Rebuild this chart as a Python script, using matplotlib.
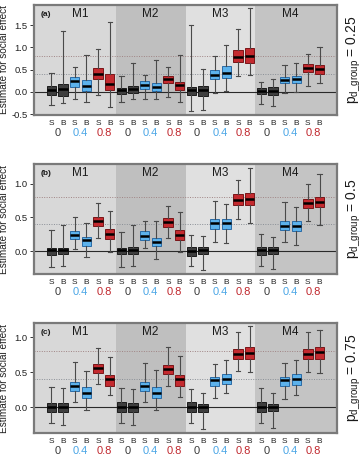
import matplotlib
matplotlib.use("Agg")
from matplotlib import pyplot as plt, transforms as mtransforms, ticker as mticker

plt.rcParams["font.family"] = ["Liberation Sans", "DejaVu Sans"]
plt.rcParams["mathtext.fontset"] = "custom"
plt.rcParams["mathtext.rm"] = "Liberation Sans"
plt.rcParams["mathtext.it"] = "Liberation Sans:italic"

MODELS = ["M1", "M2", "M3", "M4"]
ESTIMATORS = ["S", "B"] * 12
P_SOCIAL = ["0", "0.4", "0.8"] * 4
P_GROUP = ["0.25", "0.5", "0.75"]
PANEL_TAGS = ["(a)", "(b)", "(c)"]

# Panel (a), p_d_group = 0.25
a_low = [-0.30, -0.26, -0.15, -0.23, -0.08, -0.35, -0.23, -0.17, -0.17, -0.15, -0.11, -0.23,
         -0.42, -0.41, -0.02, 0.02, 0.35, 0.38, -0.27, -0.31, -0.02, -0.01, 0.14, 0.19]
a_q1 = [-0.07, -0.10, 0.10, 0.01, 0.29, 0.05, -0.05, -0.02, 0.07, 0.01, 0.19, 0.05,
        -0.06, -0.10, 0.28, 0.31, 0.67, 0.66, -0.05, -0.08, 0.19, 0.19, 0.44, 0.40]
a_med = [0.04, 0.07, 0.25, 0.13, 0.40, 0.17, 0.04, 0.06, 0.16, 0.10, 0.29, 0.15,
         0.04, 0.04, 0.37, 0.43, 0.79, 0.80, 0.01, 0.01, 0.26, 0.28, 0.53, 0.51]
a_q3 = [0.13, 0.17, 0.34, 0.27, 0.54, 0.40, 0.09, 0.13, 0.24, 0.19, 0.36, 0.23,
        0.10, 0.13, 0.49, 0.58, 0.94, 0.98, 0.08, 0.10, 0.34, 0.35, 0.62, 0.61]
a_high = [0.42, 1.38, 0.55, 0.82, 0.96, 1.58, 0.35, 0.65, 0.37, 0.71, 0.55, 0.84,
          1.50, 0.52, 0.81, 1.05, 1.41, 1.88, 0.22, 0.29, 0.60, 0.64, 0.85, 1.01]

# Panel (b), p_d_group = 0.5
b_low = [-0.24, -0.22, 0.03, -0.09, 0.20, -0.02, -0.24, -0.22, 0.04, -0.12, 0.19, -0.01,
         -0.22, -0.28, 0.14, 0.12, 0.47, 0.41, -0.22, -0.26, 0.14, 0.09, 0.44, 0.38]
b_q1 = [-0.06, -0.05, 0.18, 0.07, 0.37, 0.18, -0.05, -0.04, 0.17, 0.07, 0.35, 0.17,
        -0.07, -0.05, 0.33, 0.33, 0.68, 0.69, -0.06, -0.05, 0.31, 0.30, 0.64, 0.66]
b_med = [0.01, 0.02, 0.24, 0.16, 0.45, 0.26, 0.01, 0.02, 0.23, 0.14, 0.43, 0.24,
         0.00, 0.01, 0.41, 0.41, 0.76, 0.78, 0.01, 0.01, 0.37, 0.37, 0.72, 0.73]
b_q3 = [0.05, 0.05, 0.30, 0.21, 0.51, 0.32, 0.05, 0.06, 0.29, 0.19, 0.49, 0.31,
        0.06, 0.06, 0.47, 0.47, 0.84, 0.86, 0.06, 0.06, 0.44, 0.45, 0.78, 0.81]
b_high = [0.31, 0.39, 0.50, 0.42, 0.71, 0.59, 0.28, 0.38, 0.45, 0.44, 0.67, 0.58,
          0.24, 0.23, 0.75, 0.70, 1.05, 1.24, 0.25, 0.21, 0.73, 0.66, 1.00, 1.15]

# Panel (c), p_d_group = 0.75
c_low = [-0.23, -0.25, 0.08, -0.04, 0.33, 0.17, -0.23, -0.25, 0.08, -0.04, 0.30, 0.15,
         -0.22, -0.31, 0.13, 0.20, 0.52, 0.51, -0.22, -0.30, 0.12, 0.18, 0.50, 0.49]
c_q1 = [-0.07, -0.06, 0.23, 0.14, 0.49, 0.31, -0.07, -0.06, 0.23, 0.14, 0.48, 0.31,
        -0.06, -0.06, 0.31, 0.33, 0.69, 0.69, -0.06, -0.05, 0.31, 0.32, 0.69, 0.69]
c_med = [0.01, 0.01, 0.30, 0.21, 0.56, 0.40, 0.01, 0.01, 0.30, 0.21, 0.55, 0.40,
         0.01, 0.00, 0.39, 0.41, 0.76, 0.78, 0.01, 0.00, 0.39, 0.40, 0.76, 0.79]
c_q3 = [0.06, 0.06, 0.36, 0.29, 0.62, 0.46, 0.07, 0.06, 0.36, 0.29, 0.61, 0.46,
        0.07, 0.05, 0.44, 0.48, 0.83, 0.86, 0.07, 0.05, 0.44, 0.47, 0.83, 0.86]
c_high = [0.29, 0.27, 0.65, 0.52, 0.85, 0.72, 0.28, 0.26, 0.63, 0.53, 0.86, 0.73,
          0.26, 0.21, 0.62, 0.67, 1.08, 1.16, 0.27, 0.21, 0.63, 0.68, 1.07, 1.11]

PANELS = [
    (a_low, a_q1, a_med, a_q3, a_high),
    (b_low, b_q1, b_med, b_q3, b_high),
    (c_low, c_q1, c_med, c_q3, c_high),
]
YLIMS = [(-0.52, 1.955), (-0.342, 1.293), (-0.367, 1.204)]
YTICKS = [[-0.5, 0.0, 0.5, 1.0, 1.5], [0.0, 0.5, 1.0], [0.0, 0.5, 1.0]]

BG_COLORS = ["#d8d8d8", "#bfbfbf", "#e0e0e0", "#c4c4c4"]
FILL = {"0": "#3e3e3e", "0.4": "#5cb2ec", "0.8": "#c42a2f"}
EDGE = {"0": "#1c1c1c", "0.4": "#2a6ba6", "0.8": "#7a1518"}
TEXT_COL = {"0": "#3a3a3a", "0.4": "#4aa6e6", "0.8": "#c0272d"}

fig = plt.figure(figsize=(3.63, 4.57), dpi=100)
positions = list(range(1, 25))
bottoms = [0.7484, 0.4004, 0.0525]
edges = [-0.5, 6.5, 12.5, 18.5, 25.5]

for k, (low, q1, med, q3, high) in enumerate(PANELS):
    ax = fig.add_axes([0.0937, bottoms[k], 0.8347, 0.2407])
    ax.set_xlim(-0.5, 25.5)
    ax.set_ylim(*YLIMS[k])
    below = mtransforms.blended_transform_factory(ax.transData, ax.transAxes)

    for m in range(4):
        ax.axvspan(edges[m], edges[m + 1], color=BG_COLORS[m], lw=0, zorder=0)
        ax.text(3.5 + 6 * m, 0.915, MODELS[m], transform=below,
                ha="center", va="center", fontsize=8.5, color="#1a1a1a")

    ax.axhline(0.4, color="#8a8f96", lw=0.7, ls=(0, (1, 1.5)), zorder=1)
    ax.axhline(0.8, color="#a08484", lw=0.7, ls=(0, (1, 1.5)), zorder=1)
    ax.axhline(0.0, color="#2a2a2a", lw=0.8, zorder=1)

    stats = [
        {"whislo": low[i], "q1": q1[i], "med": med[i], "q3": q3[i], "whishi": high[i]}
        for i in range(24)
    ]
    parts = ax.bxp(stats, positions=positions, widths=0.8, capwidths=0.36,
                   showfliers=False, patch_artist=True, manage_ticks=False,
                   whiskerprops=dict(color="#4a4a4a", lw=0.8),
                   capprops=dict(color="#4a4a4a", lw=0.8),
                   medianprops=dict(color="black", lw=1.8),
                   boxprops=dict(lw=0.7), zorder=3)
    for i, box in enumerate(parts["boxes"]):
        level = P_SOCIAL[i // 2]
        box.set_facecolor(FILL[level])
        box.set_edgecolor(EDGE[level])

    ax.set_xticks([])
    for i, lab in enumerate(ESTIMATORS):
        ax.text(positions[i], -0.08, lab, transform=below, ha="center",
                va="center", fontsize=6, color="#222222", clip_on=False)
    for j, lab in enumerate(P_SOCIAL):
        ax.text(1.5 + 2 * j, -0.168, lab, transform=below, ha="center",
                va="center", fontsize=8, color=TEXT_COL[lab], clip_on=False)

    ax.set_yticks(YTICKS[k])
    ax.tick_params(axis="y", length=3, width=0.7, pad=1.5, labelsize=6.8,
                   color="#333333", labelcolor="#222222")
    ax.yaxis.set_major_formatter(mticker.FormatStrFormatter("%.1f"))

    ax.text(0.05, 0.915, PANEL_TAGS[k], transform=below, ha="left", va="center",
            fontsize=6, fontweight="bold", color="#1a1a1a")

    ax.set_ylabel("Estimate for social effect", fontsize=7.2, color="#222222")
    ax.yaxis.set_label_coords(-0.083, 0.5)

    ax.text(1.055, 0.5, r"$\mathrm{p_{d\_group}}$ = " + P_GROUP[k],
            transform=ax.transAxes, rotation=90, ha="center", va="center",
            fontsize=10, color="#1a1a1a")

    for sp in ax.spines.values():
        sp.set_color("#7a7a7a")
        sp.set_linewidth(1.6)

fig.savefig("out.png", dpi=100)
